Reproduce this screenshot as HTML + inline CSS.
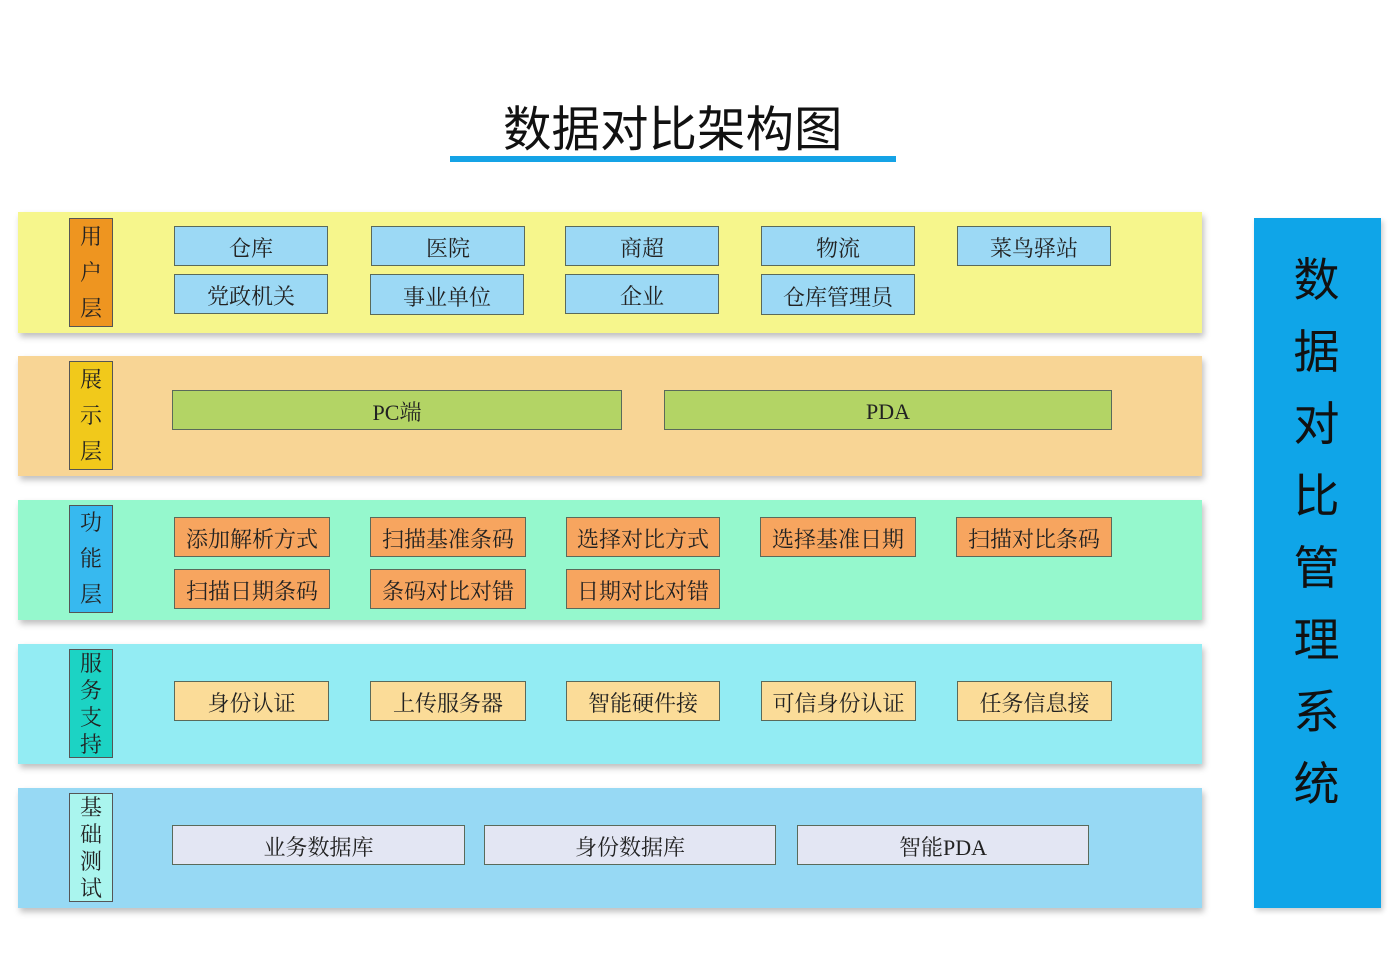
<!DOCTYPE html>
<html><head><meta charset="utf-8"><style>
body{margin:0;width:1400px;height:980px;background:#fff;position:relative;overflow:hidden;font-family:"Liberation Serif","Noto Serif CJK SC",serif;}
.a{position:absolute;box-sizing:border-box;}
.band{box-shadow:2px 4px 6px rgba(0,0,0,0.25);}
.lab{border:1px solid #555;font-size:22px;line-height:36px;text-align:center;color:#222;display:flex;flex-direction:column;justify-content:center;}
.b{border:1px solid #5a6a5a;font-size:22px;text-align:center;color:#222;display:flex;align-items:center;justify-content:center;padding-top:3px;}
.u{background:#9cd9f5;}
.g{background:#b3d465;}
.o{background:#f7a55f;}
.y{background:#fbdc98;}
.w{background:#e3e6f3;}
.r{position:absolute;left:1253px;width:127px;text-align:center;font-family:"Liberation Sans","Noto Sans CJK SC",sans-serif;font-size:46px;line-height:48px;color:#111;}
</style></head><body>
<div class="a" style="left:503px;top:100px;width:345px;font-family:'Liberation Sans','Noto Sans CJK SC',sans-serif;font-size:48.5px;line-height:60px;color:#111;white-space:nowrap">数据对比架构图</div>
<div class="a" style="left:450px;top:156px;width:446px;height:6px;background:#15a3e6"></div>

<div class="a band" style="left:18px;top:212px;width:1184px;height:121px;background:#f6f68c"></div>
<div class="a band" style="left:18px;top:356px;width:1184px;height:120px;background:#f8d595"></div>
<div class="a band" style="left:18px;top:500px;width:1184px;height:120px;background:#95f8cd"></div>
<div class="a band" style="left:18px;top:644px;width:1184px;height:120px;background:#93ecf3"></div>
<div class="a band" style="left:18px;top:788px;width:1184px;height:120px;background:#97d9f4"></div>

<div class="a lab" style="left:69px;top:218px;width:44px;height:109px;background:#ee9520"><span>用</span><span>户</span><span>层</span></div>
<div class="a lab" style="left:69px;top:361px;width:44px;height:109px;background:#f1c91b"><span>展</span><span>示</span><span>层</span></div>
<div class="a lab" style="left:69px;top:505px;width:44px;height:108px;background:#37b9ef"><span>功</span><span>能</span><span>层</span></div>
<div class="a lab" style="left:69px;top:649px;width:44px;height:109px;background:#1cd3c4;line-height:27px"><span>服</span><span>务</span><span>支</span><span>持</span></div>
<div class="a lab" style="left:69px;top:793px;width:44px;height:109px;background:#aaf5ee;line-height:27px"><span>基</span><span>础</span><span>测</span><span>试</span></div>

<div class="a b u" style="left:174px;top:226px;width:154px;height:40px">仓库</div>
<div class="a b u" style="left:174px;top:274px;width:154px;height:40px">党政机关</div>
<div class="a b u" style="left:371px;top:226px;width:154px;height:40px">医院</div>
<div class="a b u" style="left:370px;top:274px;width:154px;height:41px">事业单位</div>
<div class="a b u" style="left:565px;top:226px;width:154px;height:40px">商超</div>
<div class="a b u" style="left:565px;top:274px;width:154px;height:40px">企业</div>
<div class="a b u" style="left:761px;top:226px;width:154px;height:40px">物流</div>
<div class="a b u" style="left:761px;top:274px;width:154px;height:41px">仓库管理员</div>
<div class="a b u" style="left:957px;top:226px;width:154px;height:40px">菜鸟驿站</div>

<div class="a b g" style="left:172px;top:390px;width:450px;height:40px">PC端</div>
<div class="a b g" style="left:664px;top:390px;width:448px;height:40px">PDA</div>

<div class="a b o" style="left:174px;top:517px;width:156px;height:40px">添加解析方式</div>
<div class="a b o" style="left:370px;top:517px;width:156px;height:40px">扫描基准条码</div>
<div class="a b o" style="left:566px;top:517px;width:154px;height:40px">选择对比方式</div>
<div class="a b o" style="left:760px;top:517px;width:156px;height:40px">选择基准日期</div>
<div class="a b o" style="left:956px;top:517px;width:156px;height:40px">扫描对比条码</div>
<div class="a b o" style="left:174px;top:569px;width:156px;height:40px">扫描日期条码</div>
<div class="a b o" style="left:370px;top:569px;width:156px;height:40px">条码对比对错</div>
<div class="a b o" style="left:566px;top:569px;width:154px;height:40px">日期对比对错</div>

<div class="a b y" style="left:174px;top:681px;width:155px;height:40px">身份认证</div>
<div class="a b y" style="left:370px;top:681px;width:156px;height:40px">上传服务器</div>
<div class="a b y" style="left:566px;top:681px;width:154px;height:40px">智能硬件接</div>
<div class="a b y" style="left:761px;top:681px;width:155px;height:40px">可信身份认证</div>
<div class="a b y" style="left:957px;top:681px;width:155px;height:40px">任务信息接</div>

<div class="a b w" style="left:172px;top:825px;width:293px;height:40px">业务数据库</div>
<div class="a b w" style="left:484px;top:825px;width:292px;height:40px">身份数据库</div>
<div class="a b w" style="left:797px;top:825px;width:292px;height:40px">智能PDA</div>

<div class="a" style="left:1254px;top:218px;width:127px;height:690px;background:#0fa5e8;box-shadow:2px 3px 5px rgba(0,0,0,0.2)"></div>
<div class="r" style="top:256px">数</div>
<div class="r" style="top:328px">据</div>
<div class="r" style="top:400px">对</div>
<div class="r" style="top:472px">比</div>
<div class="r" style="top:544px">管</div>
<div class="r" style="top:616px">理</div>
<div class="r" style="top:688px">系</div>
<div class="r" style="top:760px">统</div>
</body></html>
